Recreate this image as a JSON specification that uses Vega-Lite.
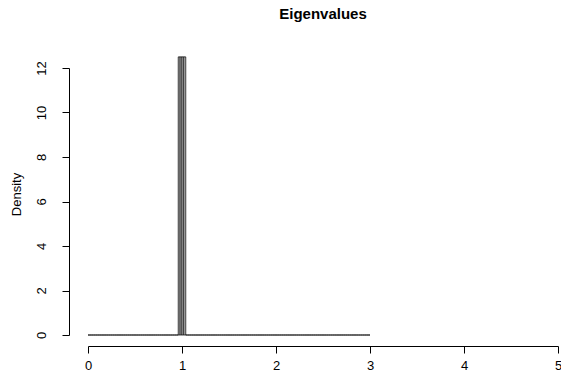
{
  "$schema": "https://vega.github.io/schema/vega-lite/v6.json",
  "width": 470,
  "height": 267,
  "autosize": "none",
  "padding": {"left": 88, "top": 68, "right": 3, "bottom": 40},
  "background": "white",
  "config": {
    "font": "Liberation Sans",
    "view": {"stroke": null},
    "axis": {"grid": false, "domainColor": "black", "tickColor": "black", "labelColor": "black", "titleColor": "black", "labelFont": "Liberation Sans", "titleFont": "Liberation Sans", "labelFontSize": 13, "titleFontSize": 13, "titleFontWeight": "normal", "tickSize": 7, "domainWidth": 1, "tickWidth": 1}
  },
  "title": {"text": "Eigenvalues", "fontSize": 15, "fontWeight": "bold", "font": "Liberation Sans", "anchor": "middle", "frame": "group", "color": "black", "baseline": "alphabetic", "offset": 23},
  "data": {"values": [
    {"a":0.00,"b":0.02,"d":0},{"a":0.02,"b":0.04,"d":0},{"a":0.04,"b":0.06,"d":0},{"a":0.06,"b":0.08,"d":0},{"a":0.08,"b":0.10,"d":0},
    {"a":0.10,"b":0.12,"d":0},{"a":0.12,"b":0.14,"d":0},{"a":0.14,"b":0.16,"d":0},{"a":0.16,"b":0.18,"d":0},{"a":0.18,"b":0.20,"d":0},
    {"a":0.20,"b":0.22,"d":0},{"a":0.22,"b":0.24,"d":0},{"a":0.24,"b":0.26,"d":0},{"a":0.26,"b":0.28,"d":0},{"a":0.28,"b":0.30,"d":0},
    {"a":0.30,"b":0.32,"d":0},{"a":0.32,"b":0.34,"d":0},{"a":0.34,"b":0.36,"d":0},{"a":0.36,"b":0.38,"d":0},{"a":0.38,"b":0.40,"d":0},
    {"a":0.40,"b":0.42,"d":0},{"a":0.42,"b":0.44,"d":0},{"a":0.44,"b":0.46,"d":0},{"a":0.46,"b":0.48,"d":0},{"a":0.48,"b":0.50,"d":0},
    {"a":0.50,"b":0.52,"d":0},{"a":0.52,"b":0.54,"d":0},{"a":0.54,"b":0.56,"d":0},{"a":0.56,"b":0.58,"d":0},{"a":0.58,"b":0.60,"d":0},
    {"a":0.60,"b":0.62,"d":0},{"a":0.62,"b":0.64,"d":0},{"a":0.64,"b":0.66,"d":0},{"a":0.66,"b":0.68,"d":0},{"a":0.68,"b":0.70,"d":0},
    {"a":0.70,"b":0.72,"d":0},{"a":0.72,"b":0.74,"d":0},{"a":0.74,"b":0.76,"d":0},{"a":0.76,"b":0.78,"d":0},{"a":0.78,"b":0.80,"d":0},
    {"a":0.80,"b":0.82,"d":0},{"a":0.82,"b":0.84,"d":0},{"a":0.84,"b":0.86,"d":0},{"a":0.86,"b":0.88,"d":0},{"a":0.88,"b":0.90,"d":0},
    {"a":0.90,"b":0.92,"d":0},{"a":0.92,"b":0.94,"d":0},{"a":0.94,"b":0.96,"d":0},{"a":0.96,"b":0.98,"d":12.5},{"a":0.98,"b":1.00,"d":12.5},
    {"a":1.00,"b":1.02,"d":12.5},{"a":1.02,"b":1.04,"d":12.5},{"a":1.04,"b":1.06,"d":0},{"a":1.06,"b":1.08,"d":0},{"a":1.08,"b":1.10,"d":0},
    {"a":1.10,"b":1.12,"d":0},{"a":1.12,"b":1.14,"d":0},{"a":1.14,"b":1.16,"d":0},{"a":1.16,"b":1.18,"d":0},{"a":1.18,"b":1.20,"d":0},
    {"a":1.20,"b":1.22,"d":0},{"a":1.22,"b":1.24,"d":0},{"a":1.24,"b":1.26,"d":0},{"a":1.26,"b":1.28,"d":0},{"a":1.28,"b":1.30,"d":0},
    {"a":1.30,"b":1.32,"d":0},{"a":1.32,"b":1.34,"d":0},{"a":1.34,"b":1.36,"d":0},{"a":1.36,"b":1.38,"d":0},{"a":1.38,"b":1.40,"d":0},
    {"a":1.40,"b":1.42,"d":0},{"a":1.42,"b":1.44,"d":0},{"a":1.44,"b":1.46,"d":0},{"a":1.46,"b":1.48,"d":0},{"a":1.48,"b":1.50,"d":0},
    {"a":1.50,"b":1.52,"d":0},{"a":1.52,"b":1.54,"d":0},{"a":1.54,"b":1.56,"d":0},{"a":1.56,"b":1.58,"d":0},{"a":1.58,"b":1.60,"d":0},
    {"a":1.60,"b":1.62,"d":0},{"a":1.62,"b":1.64,"d":0},{"a":1.64,"b":1.66,"d":0},{"a":1.66,"b":1.68,"d":0},{"a":1.68,"b":1.70,"d":0},
    {"a":1.70,"b":1.72,"d":0},{"a":1.72,"b":1.74,"d":0},{"a":1.74,"b":1.76,"d":0},{"a":1.76,"b":1.78,"d":0},{"a":1.78,"b":1.80,"d":0},
    {"a":1.80,"b":1.82,"d":0},{"a":1.82,"b":1.84,"d":0},{"a":1.84,"b":1.86,"d":0},{"a":1.86,"b":1.88,"d":0},{"a":1.88,"b":1.90,"d":0},
    {"a":1.90,"b":1.92,"d":0},{"a":1.92,"b":1.94,"d":0},{"a":1.94,"b":1.96,"d":0},{"a":1.96,"b":1.98,"d":0},{"a":1.98,"b":2.00,"d":0},
    {"a":2.00,"b":2.02,"d":0},{"a":2.02,"b":2.04,"d":0},{"a":2.04,"b":2.06,"d":0},{"a":2.06,"b":2.08,"d":0},{"a":2.08,"b":2.10,"d":0},
    {"a":2.10,"b":2.12,"d":0},{"a":2.12,"b":2.14,"d":0},{"a":2.14,"b":2.16,"d":0},{"a":2.16,"b":2.18,"d":0},{"a":2.18,"b":2.20,"d":0},
    {"a":2.20,"b":2.22,"d":0},{"a":2.22,"b":2.24,"d":0},{"a":2.24,"b":2.26,"d":0},{"a":2.26,"b":2.28,"d":0},{"a":2.28,"b":2.30,"d":0},
    {"a":2.30,"b":2.32,"d":0},{"a":2.32,"b":2.34,"d":0},{"a":2.34,"b":2.36,"d":0},{"a":2.36,"b":2.38,"d":0},{"a":2.38,"b":2.40,"d":0},
    {"a":2.40,"b":2.42,"d":0},{"a":2.42,"b":2.44,"d":0},{"a":2.44,"b":2.46,"d":0},{"a":2.46,"b":2.48,"d":0},{"a":2.48,"b":2.50,"d":0},
    {"a":2.50,"b":2.52,"d":0},{"a":2.52,"b":2.54,"d":0},{"a":2.54,"b":2.56,"d":0},{"a":2.56,"b":2.58,"d":0},{"a":2.58,"b":2.60,"d":0},
    {"a":2.60,"b":2.62,"d":0},{"a":2.62,"b":2.64,"d":0},{"a":2.64,"b":2.66,"d":0},{"a":2.66,"b":2.68,"d":0},{"a":2.68,"b":2.70,"d":0},
    {"a":2.70,"b":2.72,"d":0},{"a":2.72,"b":2.74,"d":0},{"a":2.74,"b":2.76,"d":0},{"a":2.76,"b":2.78,"d":0},{"a":2.78,"b":2.80,"d":0},
    {"a":2.80,"b":2.82,"d":0},{"a":2.82,"b":2.84,"d":0},{"a":2.84,"b":2.86,"d":0},{"a":2.86,"b":2.88,"d":0},{"a":2.88,"b":2.90,"d":0},
    {"a":2.90,"b":2.92,"d":0},{"a":2.92,"b":2.94,"d":0},{"a":2.94,"b":2.96,"d":0},{"a":2.96,"b":2.98,"d":0},{"a":2.98,"b":3.00,"d":0}
  ]},
  "mark": {"type": "rect", "fill": "#D3D3D3", "stroke": "black", "strokeWidth": 0.75, "clip": false},
  "encoding": {
    "x": {"field": "a", "type": "quantitative",
      "scale": {"domain": [0, 5], "nice": false, "zero": false},
      "axis": {"values": [0, 1, 2, 3, 4, 5], "offset": 11, "title": null, "labelPadding": 6, "labelFlush": false}},
    "x2": {"field": "b"},
    "y": {"field": "d", "type": "quantitative",
      "scale": {"domain": [0, 12], "nice": false},
      "axis": {"values": [0, 2, 4, 6, 8, 10, 12], "offset": 19, "title": "Density", "labelAngle": -90, "labelAlign": "center", "labelBaseline": "bottom", "labelPadding": 14, "labelFlush": false, "titleAngle": -90, "titleBaseline": "middle", "titleX": -53, "titleY": 126, "titleAlign": "center"}},
    "y2": {"datum": 0}
  }
}
